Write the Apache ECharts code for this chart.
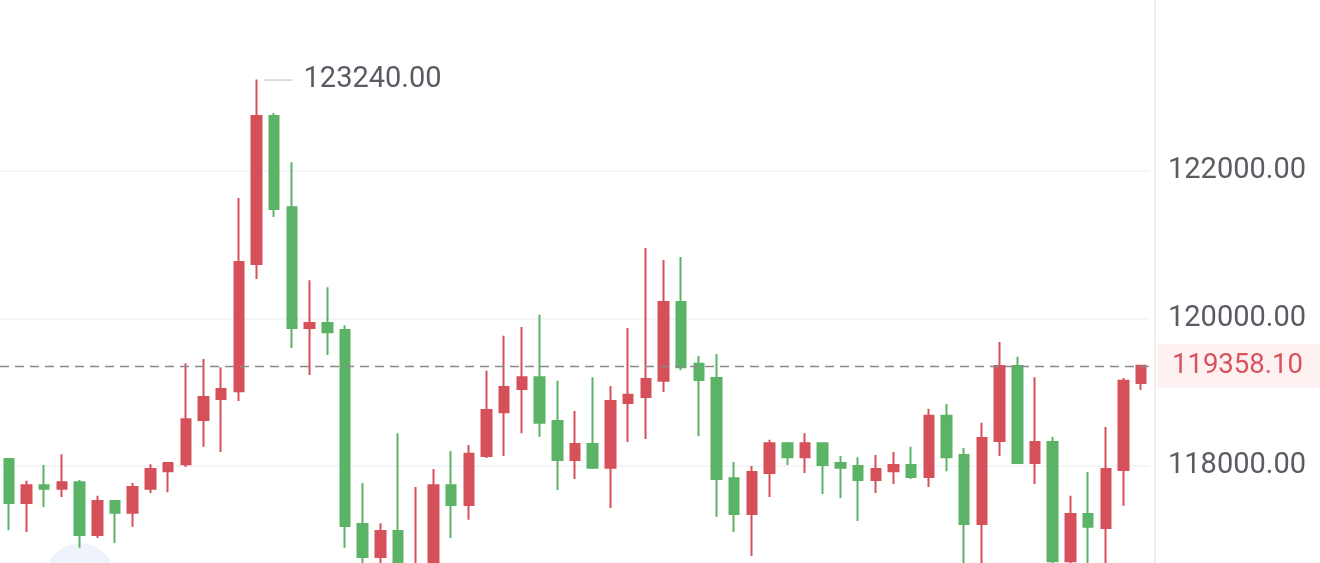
<!DOCTYPE html>
<html>
<head>
<meta charset="utf-8">
<script src="https://cdn.jsdelivr.net/npm/echarts@6/dist/echarts.min.js"></script>
<style>
html,body{margin:0;padding:0;background:#fff;overflow:hidden;width:1320px;height:563px;}
#chart{width:1320px;height:614px;}
</style>
</head>
<body>
<div id="chart"></div>
<script>
// [open, close, lowest, highest]
const candles = [
  [118095, 117500, 117130, 118100],
  [117500, 117740, 117105, 117800],
  [117740, 117690, 117445, 118015],
  [117690, 117780, 117580, 118160],
  [117780, 117065, 116890, 117810],
  [117065, 117525, 117025, 117595],
  [117525, 117365, 116955, 117530],
  [117365, 117715, 117175, 117770],
  [117690, 117960, 117635, 118025],
  [117930, 118040, 117645, 118055],
  [118025, 118635, 117985, 119395],
  [118625, 118935, 118260, 119450],
  [118910, 119045, 118190, 119340],
  [119015, 120765, 118880, 121635],
  [120740, 122745, 120535, 123240],
  [122745, 121485, 121375, 122785],
  [121510, 119870, 119600, 122120],
  [119870, 119940, 119235, 120520],
  [119940, 119815, 119505, 120425],
  [119845, 117185, 116890, 119910],
  [117215, 116765, 116640, 117770],
  [116765, 117120, 116660, 117225],
  [117120, 116450, 116300, 118445],
  [116350, 116600, 116250, 117715],
  [116550, 117740, 116450, 117960],
  [117740, 117470, 117025, 118205],
  [117470, 118165, 117270, 118285],
  [118135, 118760, 118110, 119290],
  [118730, 119070, 118135, 119765],
  [119045, 119205, 118445, 119885],
  [119205, 118585, 118395, 120050],
  [118610, 118080, 117675, 119155],
  [118080, 118300, 117825, 118745],
  [118300, 117975, 117960, 119205],
  [117975, 118880, 117430, 119085],
  [118855, 118965, 118325, 119870],
  [118935, 119180, 118365, 120955],
  [119155, 120225, 119005, 120795],
  [120225, 119340, 119300, 120835],
  [119385, 119165, 118405, 119490],
  [119195, 117825, 117310, 119520],
  [117835, 117350, 117105, 118055],
  [117350, 117920, 116780, 118000],
  [117905, 118310, 117580, 118355],
  [118310, 118120, 118015, 118325],
  [118120, 118310, 117905, 118445],
  [118310, 118015, 117620, 118320],
  [118040, 117975, 117565, 118135],
  [118000, 117810, 117255, 118120],
  [117810, 117960, 117635, 118150],
  [117930, 118015, 117755, 118190],
  [118015, 117850, 117825, 118260],
  [117850, 118680, 117715, 118775],
  [118680, 118120, 117930, 118840],
  [118150, 117215, 116550, 118245],
  [117215, 118380, 116590, 118585],
  [118340, 119355, 118135, 119680],
  [119355, 118040, 118040, 119480],
  [118040, 118325, 117755, 119205],
  [118325, 116710, 116590, 118395],
  [116710, 117350, 116615, 117595],
  [117350, 117175, 116520, 117920],
  [117160, 117960, 116615, 118530],
  [117945, 119155, 117460, 119195],
  [119125, 119358.10, 119030, 119370]
];
const categories = candles.map((_, i) => String(i + 1));
const yTicks = [116000, 118000, 120000, 122000];
const lastPrice = candles[candles.length - 1][1];

const UP = '#d6505a';
const DOWN = '#5bb366';
const TEXT = '#595c62';
const FONT = 'Roboto, "Liberation Sans", Arial, sans-serif';

const chart = echarts.init(document.getElementById('chart'), null, {renderer: 'canvas'});
chart.setOption({
  animation: false,
  backgroundColor: '#ffffff',
  graphic: [{
    type: 'circle',
    shape: {cx: 80, cy: 578, r: 35},
    style: {fill: '#eef3fc'},
    z: -10,
    silent: true
  }, {
    type: 'line',
    shape: {x1: 1155, y1: 0, x2: 1155, y2: 614},
    style: {stroke: '#eff0f3', lineWidth: 2},
    z: -5,
    silent: true
  }],
  grid: {left: 0, right: 170, top: 30.9, bottom: 0.5, containLabel: false},
  xAxis: {
    type: 'category',
    data: categories,
    boundaryGap: true,
    axisLine: {show: false},
    axisTick: {show: false},
    axisLabel: {show: false},
    splitLine: {show: false}
  },
  yAxis: {
    type: 'value',
    position: 'right',
    offset: 5,
    min: yTicks[0],
    max: 123900,
    interval: yTicks[1] - yTicks[0],
    scale: true,
    axisLine: {show: false},
    axisTick: {show: false},
    axisLabel: {
      show: true,
      margin: 13,
      color: TEXT,
      fontSize: 29,
      fontFamily: FONT,
      padding: [6, 0, 0, 0],
      showMinLabel: false,
      showMaxLabel: false,
      formatter: v => Number(v).toFixed(2)
    },
    splitLine: {
      show: true,
      showMinLine: false,
      showMaxLine: false,
      lineStyle: {color: '#f1f2f5', width: 1.5}
    }
  },
  series: [{
    type: 'candlestick',
    data: candles,
    barWidth: 10,
    itemStyle: {
      color: UP,
      color0: DOWN,
      borderColor: UP,
      borderColor0: DOWN,
      borderWidth: 2
    },
    markPoint: {
      silent: true,
      symbol: 'rect',
      symbolSize: [28, 1.5],
      symbolOffset: [22, 0.5],
      itemStyle: {color: '#d2d2d2'},
      label: {
        show: true,
        position: 'right',
        distance: 11,
        color: TEXT,
        fontSize: 29,
        fontFamily: FONT,
        padding: [6, 0, 0, 0],
        formatter: p => Number(p.value).toFixed(2)
      },
      data: [{type: 'max', valueDim: 'highest'}]
    },
    markLine: {
      silent: true,
      symbol: ['none', 'none'],
      lineStyle: {color: '#8a8a8a', type: [9, 6], width: 1.3},
      label: {
        show: true,
        position: 'end',
        distance: 7,
        color: '#d9525e',
        fontSize: 27.5,
        fontFamily: FONT,
        lineHeight: 28,
        backgroundColor: '#fdf1f1',
        padding: [10, 30, 6, 15],
        formatter: () => lastPrice.toFixed(2)
      },
      data: [{yAxis: lastPrice}]
    }
  }]
});
</script>
</body>
</html>
